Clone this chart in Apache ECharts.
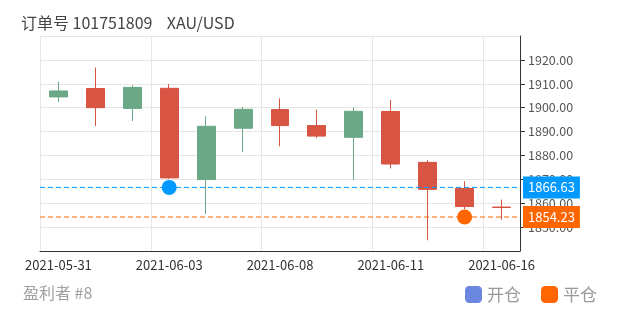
<!DOCTYPE html>
<html>
<head>
<meta charset="utf-8">
<script src="https://cdn.jsdelivr.net/npm/echarts@6/dist/echarts.min.js"></script>
<style>html,body{margin:0;padding:0;background:#fff}#c{width:620px;height:310px}</style>
</head>
<body>
<div id="c"></div>
<script>
// categories
var dates = ['2021-05-31','2021-06-01','2021-06-02','2021-06-03','2021-06-04','2021-06-07','2021-06-08','2021-06-09','2021-06-10','2021-06-11','2021-06-14','2021-06-15','2021-06-16'];
// OHLC values
var opens  = [1904.5, 1908.0, 1899.7, 1908.1, 1869.9, 1891.4, 1899.2, 1892.5, 1887.6, 1898.4, 1877.1, 1866.2, 1858.4];
var closes = [1907.0, 1900.0, 1908.5, 1870.6, 1892.2, 1899.3, 1892.5, 1888.1, 1898.5, 1876.4, 1865.8, 1858.6, 1858.2];
var lows   = [1902.4, 1892.3, 1894.4, 1870.2, 1855.5, 1881.4, 1883.8, 1887.3, 1869.7, 1874.6, 1844.5, 1857.5, 1853.1];
var highs  = [1910.9, 1916.8, 1909.4, 1909.9, 1896.4, 1900.3, 1903.9, 1899.2, 1900.0, 1903.2, 1878.0, 1869.2, 1861.5];
// trade points
var openDate = '2021-06-03', openPrice = 1866.63;
var closeDate = '2021-06-15', closePrice = 1854.23;
// y axis ticks
var yMin = 1840, yMax = 1930, yStep = 10;

var kData = dates.map(function (d, i) { return [opens[i], closes[i], lows[i], highs[i]]; });
var FONT = '"Noto Sans CJK SC", "Noto Sans", sans-serif';

// horizontal price line across the whole grid (auxiliary 0..1 x axis)
function priceLine(name, price, color) {
  return {
    type: 'line', name: name, xAxisIndex: 1, yAxisIndex: 0,
    data: [[0, price], [1, price]],
    symbol: 'none', silent: true, z: 4,
    lineStyle: {color: color, width: 1, type: [5, 3]},
    itemStyle: {color: color},
    endLabel: {show: true, distance: 3, color: '#fff', backgroundColor: color, padding: [4, 5],
      fontSize: 13, lineHeight: 14, fontFamily: FONT,
      formatter: function (p) { return Number(p.value[1]).toFixed(2); }}
  };
}

var chart = echarts.init(document.getElementById('c'), null, {renderer: 'canvas'});
chart.setOption({
  animation: false,
  textStyle: {fontFamily: FONT},
  title: [
    {text: '订单号 101751809    XAU/USD', left: 16, top: 10,
     textStyle: {fontSize: 16, fontWeight: 'normal', color: '#444', fontFamily: FONT}},
    {text: '盈利者 #8', left: 18, top: 280,
     textStyle: {fontSize: 16, fontWeight: 'normal', color: '#a0a0a0', fontFamily: FONT}}
  ],
  legend: {
    right: 18, top: 281, itemWidth: 17, itemHeight: 17, itemGap: 20,
    icon: 'roundRect',
    textStyle: {fontSize: 17, color: '#999', fontFamily: FONT},
    data: [{name: '开仓', itemStyle: {color: '#6a88e0', opacity: 1}}, {name: '平仓', itemStyle: {color: '#ff6600', opacity: 1}}]
  },
  grid: {left: 40, right: 100, top: 36, bottom: 59},
  xAxis: [{
    type: 'category', data: dates, boundaryGap: true,
    axisLine: {onZero: false, lineStyle: {color: '#333'}},
    axisTick: {alignWithLabel: true, interval: 2, lineStyle: {color: '#333'}},
    axisLabel: {interval: 2, color: '#333', fontSize: 13, fontFamily: FONT},
    splitLine: {show: true, interval: 2, lineStyle: {color: '#e6e6e6'}}
  }, {
    type: 'value', min: 0, max: 1, show: false,
    axisLine: {show: false, onZero: false}, axisTick: {show: false}, axisLabel: {show: false}, splitLine: {show: false}
  }],
  yAxis: {
    type: 'value', position: 'right', min: yMin, max: yMax, interval: yStep,
    axisLine: {show: true, onZero: false, lineStyle: {color: '#333'}},
    axisTick: {show: true, lineStyle: {color: '#333'}},
    axisLabel: {color: '#555', fontSize: 12.5, showMinLabel: false, showMaxLabel: false, fontFamily: FONT,
      formatter: function (v) { return v.toFixed(2); }},
    splitLine: {lineStyle: {color: '#e6e6e6'}}
  },
  series: [
    {
      type: 'candlestick', name: 'K', data: kData,
      itemStyle: {color: '#6aa886', color0: '#d85443', borderColor: '#6aa886', borderColor0: '#d85443', borderWidth: 1}
    },
    priceLine('开仓价', openPrice, '#0099ff'),
    priceLine('平仓价', closePrice, '#ff6600'),
    {
      type: 'scatter', name: '开仓', symbolSize: 15, data: [[openDate, openPrice]],
      itemStyle: {color: '#0099ff', opacity: 1}, z: 5
    },
    {
      type: 'scatter', name: '平仓', symbolSize: 15, data: [[closeDate, closePrice]],
      itemStyle: {color: '#ff6600', opacity: 1}, z: 5
    }
  ]
});
</script>
</body>
</html>
